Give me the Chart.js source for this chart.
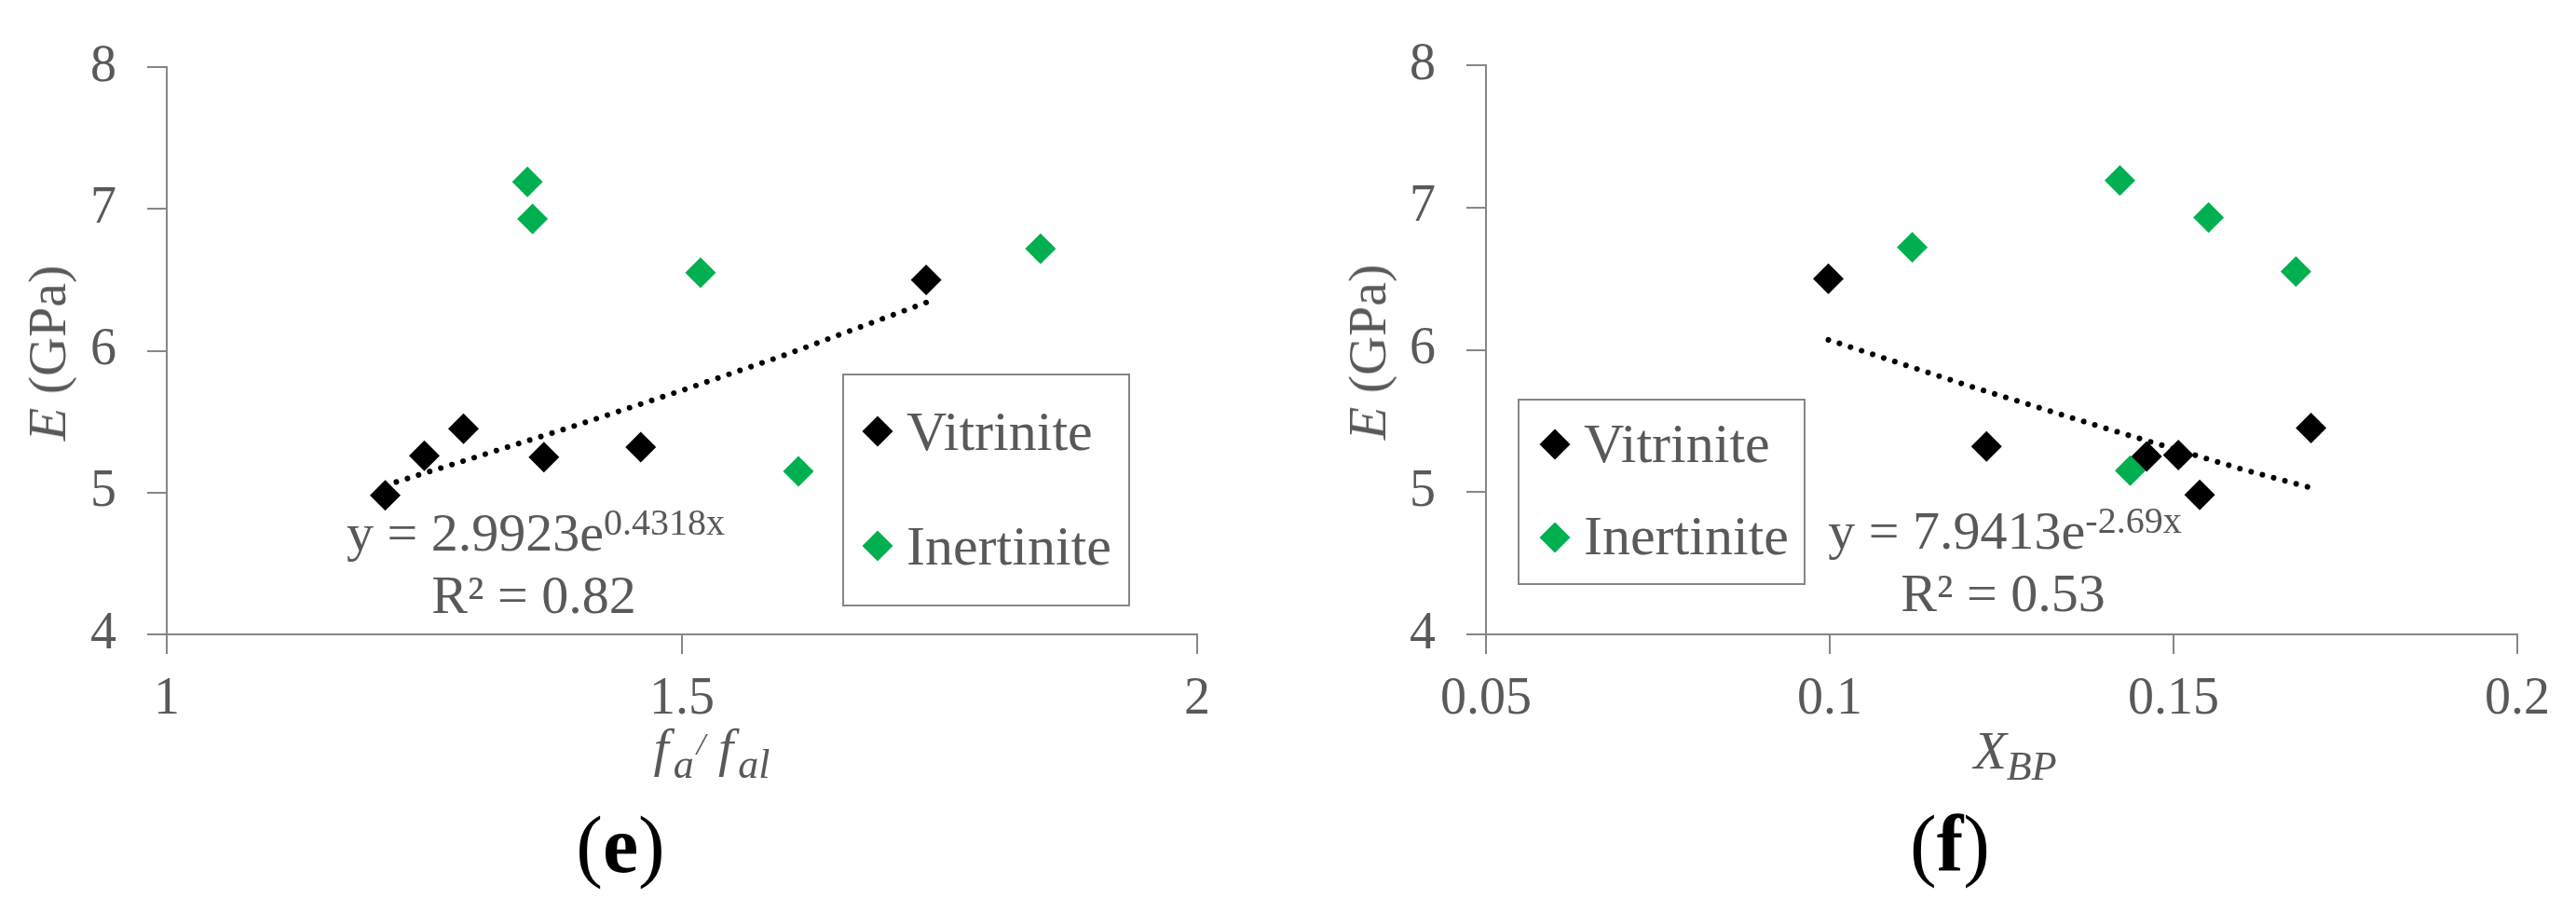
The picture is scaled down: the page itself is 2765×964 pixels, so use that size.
<!DOCTYPE html>
<html>
<head>
<meta charset="utf-8">
<script src="https://cdn.jsdelivr.net/npm/chart.js@4.4.1/dist/chart.umd.min.js"></script>
<style>
  html, body { margin: 0; padding: 0; background: #fff; }
  #page { position: relative; width: 2765px; height: 964px; overflow: hidden;
          font-family: "Liberation Serif", "Times New Roman", serif; color: #595959; }
  canvas { position: absolute; top: 0; }
  .txt { position: absolute; line-height: 1; white-space: nowrap; transform: translateX(-50%); }
  .ytitle { position: absolute; line-height: 1; white-space: nowrap; font-size: 58px;
            transform: translate(-50%, -50%) rotate(-90deg); }
  .lift { line-height: 0; }
  .panel { color: #000; font-size: 86px; }
</style>
</head>
<body>
<div id="page">
  <canvas id="chartE" width="1382" height="964" style="left:0"></canvas>
  <canvas id="chartF" width="1383" height="964" style="left:1382px"></canvas>

  <div class="ytitle" style="left:51px;top:379px"><i>E</i> (GPa)</div>
  <div class="ytitle" style="left:1468px;top:378px"><i>E</i> (GPa)</div>

  <div class="txt" style="left:575px;top:543px;font-size:58px">y = 2.9923e<span class="lift" style="font-size:40px;vertical-align:17px">0.4318x</span></div>
  <div class="txt" style="left:573px;top:610px;font-size:58px">R² = 0.82</div>
  <div class="txt" style="left:2152px;top:541px;font-size:58px">y = 7.9413e<span class="lift" style="font-size:40px;vertical-align:17px">-2.69x</span></div>
  <div class="txt" style="left:2150px;top:608px;font-size:58px">R² = 0.53</div>

  <div class="txt" style="left:764px;top:774px;font-size:58px"><i>f</i><i class="lift" style="font-size:44px;vertical-align:-13px;margin-left:5px">a</i><i class="lift" style="font-size:34px;vertical-align:12px;margin-left:3px">/</i><i style="margin-left:14px">f</i><i class="lift" style="font-size:44px;vertical-align:-13px;margin-left:5px">al</i></div>
  <div class="txt" style="left:2163px;top:777px;font-size:58px"><i>X</i><i class="lift" style="font-size:44px;vertical-align:-12px">BP</i></div>

  <div class="txt panel" style="left:666px;top:864px">(<b>e</b>)</div>
  <div class="txt panel" style="left:2093px;top:863px">(<b>f</b>)</div>
</div>

<script>
// axis ticks
const eTicks = [4, 5, 6, 7, 8];
const faTicks = [1, 1.5, 2];
const xbpTicks = [0.05, 0.1, 0.15, 0.2];

const seriesNames = ['Vitrinite', 'Inertinite'];
const seriesColors = ['#000000', '#00b050'];

// Vitrinite samples: E (GPa), fa/fal, X_BP
const vitE = [4.98, 5.26, 5.45, 5.25, 5.32, 6.50];
const vitFa = [1.212, 1.250, 1.288, 1.366, 1.460, 1.737];
const vitXbp = [0.1538, 0.1507, 0.1700, 0.1461, 0.1228, 0.0998];

// Inertinite samples
const inE = [7.19, 6.93, 6.55, 5.15, 6.72];
const inFa = [1.350, 1.355, 1.518, 1.613, 1.848];
const inXbp = [0.1422, 0.1551, 0.1678, 0.1437, 0.1120];

// dotted trend curves
const trendFaX = [1.212, 1.30, 1.40, 1.50, 1.60, 1.737];
const trendFaY = [5.05, 5.25, 5.48, 5.72, 5.97, 6.34];
const trendXbpX = [0.0998, 0.12, 0.14, 0.16, 0.170];
const trendXbpY = [6.07, 5.75, 5.45, 5.16, 5.03];

const pts = (xs, ys) => xs.map((x, i) => ({ x, y: ys[i] }));

// legend in a framed box, drawn on top of the plot
const boxLegend = {
  id: 'boxLegend',
  afterDatasetsDraw(chart, args, opts) {
    const ctx = chart.ctx;
    const [x1, y1, x2, y2] = opts.box;
    ctx.save();
    ctx.strokeStyle = '#868686';
    ctx.lineWidth = 2;
    ctx.fillStyle = '#fff';
    ctx.fillRect(x1, y1, x2 - x1, y2 - y1);
    ctx.strokeRect(x1, y1, x2 - x1, y2 - y1);
    const items = chart.data.datasets.filter(d => seriesNames.includes(d.label));
    items.forEach((ds, i) => {
      const style = { pointStyle: 'rectRot', radius: ds.pointRadius, rotation: 0, borderWidth: 0 };
      ctx.fillStyle = ds.backgroundColor;
      if (Chart.helpers && Chart.helpers.drawPoint) {
        Chart.helpers.drawPoint(ctx, style, opts.markerX, opts.rows[i]);
      }
      ctx.fillStyle = '#595959';
      ctx.font = '60px "Liberation Serif"';
      ctx.textBaseline = 'alphabetic';
      ctx.textAlign = 'left';
      ctx.fillText(ds.label, opts.textX, opts.baselines[i]);
    });
    ctx.restore();
  }
};

function axis(ticks, isY, size, pad) {
  return {
    type: 'linear',
    min: ticks[0],
    max: ticks[ticks.length - 1],
    afterBuildTicks: s => { s.ticks = ticks.map(v => ({ value: v })); },
    afterFit: s => { if (isY) s.width = size; else s.height = size; },
    ticks: {
      color: '#595959',
      padding: pad,
      font: { family: 'Liberation Serif', size: 56 },
      callback: v => String(v)
    },
    grid: { drawOnChartArea: false, drawTicks: true, tickLength: 21, color: '#868686', lineWidth: 2 },
    border: { display: true, color: '#868686', width: 2 }
  };
}

function makeChart(id, c) {
  return new Chart(document.getElementById(id), {
    type: 'scatter',
    data: {
      datasets: [
        { label: 'trend', data: pts(c.trendX, c.trendY), showLine: true, pointRadius: 0,
          borderColor: '#000', borderWidth: 6, borderDash: [0.01, 12.5], borderCapStyle: 'round', order: 0 },
        { label: seriesNames[0], data: pts(c.vitX, vitE), pointStyle: 'rectRot', pointRadius: 16.5,
          backgroundColor: seriesColors[0], borderWidth: 0, order: 1 },
        { label: seriesNames[1], data: pts(c.inX, inE), pointStyle: 'rectRot', pointRadius: 16.5,
          backgroundColor: seriesColors[1], borderWidth: 0, order: 2 }
      ]
    },
    options: {
      responsive: false,
      animation: false,
      layout: { padding: c.pad },
      plugins: { legend: { display: false }, tooltip: { enabled: false }, boxLegend: c.legend },
      scales: {
        x: axis(c.xTicks, false, 283, 16),
        y: axis(eTicks, true, c.yWidth, 33)
      }
    },
    plugins: [boxLegend]
  });
}

makeChart('chartE', {
  trendX: trendFaX, trendY: trendFaY, vitX: vitFa, inX: inFa, xTicks: faTicks,
  yWidth: 179, pad: { left: 0, top: 72, right: 97, bottom: 0 },
  legend: { box: [905, 402, 1212, 650], markerX: 942, rows: [463, 586], textX: 973, baselines: [483, 606] }
});

makeChart('chartF', {
  trendX: trendXbpX, trendY: trendXbpY, vitX: vitXbp, inX: inXbp, xTicks: xbpTicks,
  yWidth: 213, pad: { left: 0, top: 70, right: 63, bottom: 0 },
  legend: { box: [248, 429, 555, 627], markerX: 287, rows: [477, 577], textX: 318, baselines: [496, 595] }
});
</script>
</body>
</html>
